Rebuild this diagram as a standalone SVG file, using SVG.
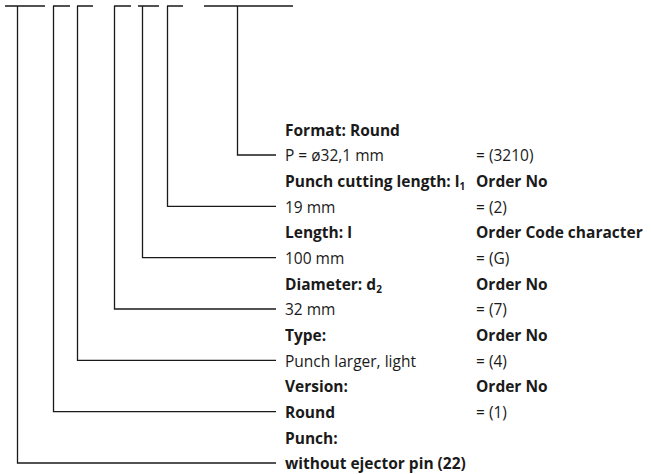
<svg xmlns="http://www.w3.org/2000/svg" width="651" height="474" viewBox="0 0 651 474">
<style>
.c{fill:none;stroke:#1a1a1a;stroke-width:1.3}
text{font-family:"Open Sans","Noto Sans",sans-serif;font-size:15.5px;fill:#1a1a1a}
.b{font-weight:bold}
.s{font-size:10px}
</style>
<rect width="651" height="474" fill="#fff"/>
<g id="connectors">
<path class="c" d="M5 6H45M53 6H70M77 6H93M114 6H131M138 6H159M167 6H183M204 6H293"/>
<path class="c" d="M237.5 6V155H276"/>
<path class="c" d="M167.5 6V206.3H276"/>
<path class="c" d="M142.5 6V257.7H276"/>
<path class="c" d="M114.5 6V309H276"/>
<path class="c" d="M77.5 6V360.3H276"/>
<path class="c" d="M53.5 6V411.7H276"/>
<path class="c" d="M17.5 6V463H276"/>
</g>
<g id="format">
<text class="b" x="285" y="135.5">Format: Round</text>
<text x="285" y="161.2">P = ø32,1 mm</text>
<text x="476" y="161.2">= (3210)</text>
</g>
<g id="cutting-length">
<text class="b" x="285" y="186.8">Punch cutting length: l<tspan class="s" dy="3">1</tspan></text>
<text class="b" x="476" y="186.8">Order No</text>
<text x="285" y="212.5">19 mm</text>
<text x="476" y="212.5">= (2)</text>
</g>
<g id="length">
<text class="b" x="285" y="238.2">Length: l</text>
<text class="b" x="476" y="238.2">Order Code character</text>
<text x="285" y="263.8">100 mm</text>
<text x="476" y="263.8">= (G)</text>
</g>
<g id="diameter">
<text class="b" x="285" y="289.5">Diameter: d<tspan class="s" dy="3">2</tspan></text>
<text class="b" x="476" y="289.5">Order No</text>
<text x="285" y="315.2">32 mm</text>
<text x="476" y="315.2">= (7)</text>
</g>
<g id="type">
<text class="b" x="285" y="340.9">Type:</text>
<text class="b" x="476" y="340.9">Order No</text>
<text x="285" y="366.5">Punch larger, light</text>
<text x="476" y="366.5">= (4)</text>
</g>
<g id="version">
<text class="b" x="285" y="392.2">Version:</text>
<text class="b" x="476" y="392.2">Order No</text>
<text class="b" x="285" y="417.9">Round</text>
<text x="476" y="417.9">= (1)</text>
</g>
<g id="punch">
<text class="b" x="285" y="443.5">Punch:</text>
<text class="b" x="285" y="469.2">without ejector pin (22)</text>
</g>
</svg>
